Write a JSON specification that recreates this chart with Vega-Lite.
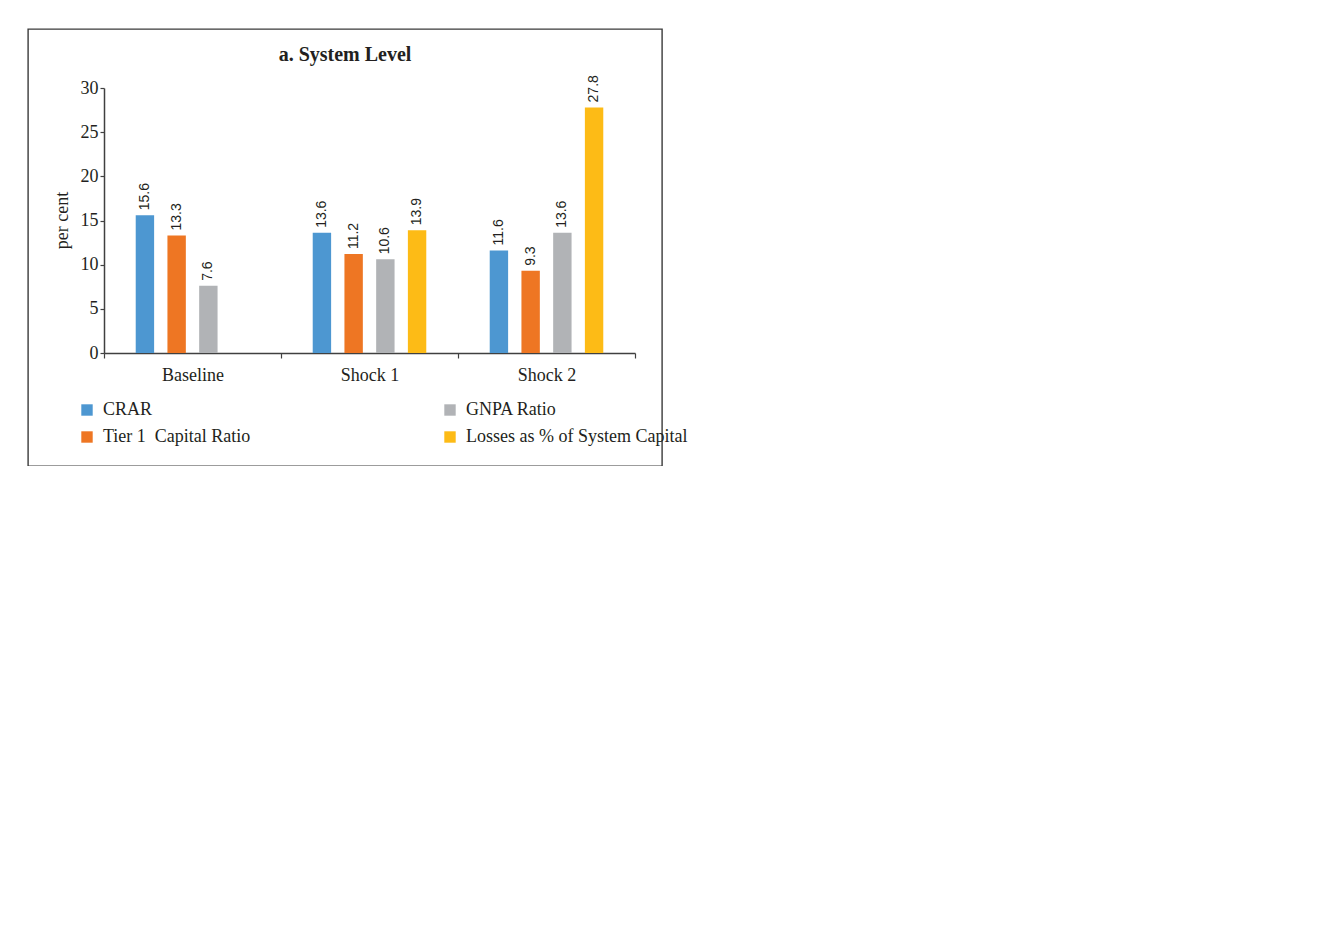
{
  "$schema": "https://vega.github.io/schema/vega-lite/v6.json",
  "padding": {"left": 28, "top": 29, "right": 0, "bottom": 0},
  "config": {
    "view": {"stroke": "#3a3a3a", "strokeWidth": 1.4},
    "font": "Liberation Serif",
    "axis": {
      "labelFont": "Liberation Serif", "labelFontSize": 18, "labelColor": "#231f20",
      "titleFont": "Liberation Serif", "titleFontSize": 18, "titleFontWeight": "normal", "titleColor": "#231f20",
      "domainColor": "#404040", "domainWidth": 1.5, "tickColor": "#404040", "tickWidth": 1.2, "grid": false,
      "labelOverlap": false
    },
    "legend": {"labelFont": "Liberation Serif", "labelFontSize": 18, "labelColor": "#231f20", "labelLimit": 400},
    "title": {"font": "Liberation Serif", "fontSize": 20, "fontWeight": "bold", "color": "#231f20", "anchor": "middle"},
    "text": {"font": "Liberation Sans", "fontSize": 14, "color": "#231f20"}
  },
  "data": {"values": [
      {"scenario": "Baseline", "measure": "CRAR", "value": 15.6},
      {"scenario": "Baseline", "measure": "Tier 1\u00a0 Capital Ratio", "value": 13.3},
      {"scenario": "Baseline", "measure": "GNPA Ratio", "value": 7.6},
      {"scenario": "Shock 1", "measure": "CRAR", "value": 13.6},
      {"scenario": "Shock 1", "measure": "Tier 1\u00a0 Capital Ratio", "value": 11.2},
      {"scenario": "Shock 1", "measure": "GNPA Ratio", "value": 10.6},
      {"scenario": "Shock 1", "measure": "Losses as % of System Capital", "value": 13.9},
      {"scenario": "Shock 2", "measure": "CRAR", "value": 11.6},
      {"scenario": "Shock 2", "measure": "Tier 1\u00a0 Capital Ratio", "value": 9.3},
      {"scenario": "Shock 2", "measure": "GNPA Ratio", "value": 13.6},
      {"scenario": "Shock 2", "measure": "Losses as % of System Capital", "value": 27.8}
  ]},
  "width": 634, "height": 437,
  "title": {"text": "a. System Level", "offset": -36},
  "encoding": {
    "x": {
      "field": "scenario", "type": "nominal", "sort": ["Baseline", "Shock 1", "Shock 2"],
      "scale": {"type": "band", "range": [76, 607], "paddingInner": 0, "paddingOuter": 0},
      "axis": {"orient": "bottom", "offset": -113, "title": null, "labelAngle": 0, "tickBand": "extent", "tickSize": 5, "labelPadding": 8}
    },
    "xOffset": {
      "field": "measure", "type": "nominal",
      "scale": {"domain": ["CRAR", "Tier 1\u00a0 Capital Ratio", "GNPA Ratio", "Losses as % of System Capital"], "paddingInner": 0.42, "paddingOuter": 1.06}
    },
    "y": {
      "field": "value", "type": "quantitative",
      "scale": {"domain": [0, 30], "range": [324, 59], "nice": false},
      "axis": {"orient": "left", "offset": -76, "values": [0, 5, 10, 15, 20, 25, 30], "tickSize": 4, "labelPadding": 2,
               "title": "per cent", "titleX": -42, "titleY": 191, "titleAngle": 270, "titleAlign": "center", "titleBaseline": "middle"}
    }
  },
  "layer": [
    {
      "mark": {"type": "bar"},
      "encoding": {
        "color": {
          "field": "measure", "type": "nominal",
          "scale": {"domain": ["CRAR", "Tier 1\u00a0 Capital Ratio", "GNPA Ratio", "Losses as % of System Capital"],
                    "range": ["#4d97d1", "#ee7623", "#b1b3b6", "#fdbb16"]},
          "legend": {"title": null, "orient": "none", "legendX": 50, "legendY": 372, "columns": 2, "columnPadding": 190, "rowPadding": 9,
                     "symbolType": "square", "symbolSize": 130, "labelOffset": 7}
        }
      }
    },
    {
      "mark": {"type": "text", "angle": 270, "align": "left", "baseline": "middle", "dx": 5},
      "encoding": {"text": {"field": "value", "type": "quantitative", "format": ".1f"}}
    }
  ]
}
